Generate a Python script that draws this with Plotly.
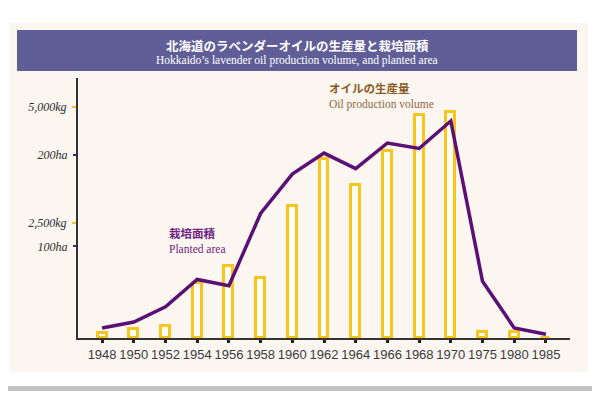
import plotly.graph_objects as go

# ---- data ----
years = ["1948", "1950", "1952", "1954", "1956", "1958", "1960", "1962",
         "1964", "1966", "1968", "1970", "1975", "1980", "1985"]
oil_kg = [100, 185, 250, 1180, 1550, 1290, 2850, 3870,
          3320, 4040, 4820, 4900, 140, 120, 0]
area_ha = [11, 17.5, 34, 64, 57, 136, 179, 202,
           185, 213, 207, 237, 62, 11, 4]
kg_ticks = [2500, 5000]
kg_labels = ["2,500kg", "5,000kg"]
ha_ticks = [100, 200]
ha_labels = ["100ha", "200ha"]

# page body has an 8px margin; figure is sized so the page is 600x395
OFF = 8
W, H = 600 - OFF, 395 - OFF
L, T = 78 - OFF, 78 - OFF
R = W - (570 - OFF)
B = H - (338 - OFF)
PW, PH = W - L - R, H - T - B


def px(x):
    return (x - OFF - L) / PW


def py(y):
    return (H - B - (y - OFF)) / PH


fig = go.Figure()

fig.add_trace(go.Bar(
    x=years, y=oil_kg, yaxis="y",
    width=0.28,
    marker=dict(color="#FFFDF4", line=dict(color="#F6C61E", width=3)),
    showlegend=False, hoverinfo="skip",
))
fig.add_trace(go.Scatter(
    x=years, y=area_ha, yaxis="y2", mode="lines",
    line=dict(color="#5A1074", width=3.5),
    showlegend=False, hoverinfo="skip",
))

shapes = []
# card shadow
shapes.append(dict(type="rect", xref="paper", yref="paper", layer="below",
                   x0=px(592), x1=px(597), y0=py(4), y1=py(391),
                   fillcolor="#C4C4C4", line=dict(width=0)))
shapes.append(dict(type="rect", xref="paper", yref="paper", layer="below",
                   x0=px(4), x1=px(597), y0=py(386), y1=py(391),
                   fillcolor="#C4C4C4", line=dict(width=0)))
shapes.append(dict(type="rect", xref="paper", yref="paper", layer="below",
                   x0=px(0), x1=px(592), y0=py(0), y1=py(386),
                   fillcolor="#FFFFFF", line=dict(width=0)))
# cream panel
shapes.append(dict(type="rect", xref="paper", yref="paper", layer="below",
                   x0=px(10), x1=px(588), y0=py(23), y1=py(372),
                   fillcolor="#FCF6F1", line=dict(width=0)))
# title band
shapes.append(dict(type="rect", xref="paper", yref="paper", layer="below",
                   x0=px(17), x1=px(577), y0=py(30), y1=py(71),
                   fillcolor="#5F5E97", line=dict(width=0)))

JP = "font-family:'Noto Sans CJK JP'"

annotations = [
    dict(text="<b>北海道のラベンダーオイルの生産量と栽培面積</b>",
         x=px(297), y=py(45), xref="paper", yref="paper", showarrow=False,
         xanchor="center", yanchor="middle",
         font=dict(family="Noto Sans CJK JP", size=12.5, color="#FFFFFF")),
    dict(text="Hokkaido’s lavender oil production volume, and planted area",
         x=px(297), y=py(60), xref="paper", yref="paper", showarrow=False,
         xanchor="center", yanchor="middle",
         font=dict(family="Liberation Serif", size=11.5, color="#FFFFFF")),
    dict(text=f"<span style=\"{JP};color:#8A5A22\"><b>オイルの生産量</b></span>"
              "<br>Oil production volume",
         x=px(327), y=py(95), xref="paper", yref="paper", showarrow=False,
         xanchor="left", yanchor="middle", align="left",
         font=dict(family="Liberation Serif", size=11.5, color="#8C6A3C")),
    dict(text=f"<span style=\"{JP}\"><b>栽培面積</b></span><br>Planted area",
         x=px(167), y=py(240), xref="paper", yref="paper", showarrow=False,
         xanchor="left", yanchor="middle", align="left",
         font=dict(family="Liberation Serif", size=11.5, color="#6E2382")),
]

fig.update_layout(
    width=W, height=H,
    margin=dict(l=L, r=R, t=T, b=B, pad=0),
    paper_bgcolor="#FFFFFF",
    plot_bgcolor="rgba(0,0,0,0)",
    shapes=shapes,
    annotations=annotations,
    bargap=0,
    xaxis=dict(
        type="category", range=[-0.76, 14.76],
        showgrid=False, zeroline=False,
        showline=True, linecolor="#333333", linewidth=2,
        ticks="outside", ticklen=3, tickwidth=3, tickcolor="#222222",
        tickangle=0,
        tickfont=dict(family="Liberation Sans", size=13, color="#3A3A3A"),
        fixedrange=True,
    ),
    yaxis=dict(
        range=[0, 5628], tickvals=kg_ticks, ticktext=kg_labels,
        showgrid=False, zeroline=False,
        showline=True, linecolor="#333333", linewidth=2,
        ticks="outside", ticklen=4, tickwidth=2, tickcolor="#F2C232",
        tickfont=dict(family="Liberation Serif", size=12, color="#2A2A2A",
                      style="italic"),
        ticklabelstandoff=3,
    ),
    yaxis2=dict(
        range=[0, 284], tickvals=ha_ticks, ticktext=ha_labels,
        overlaying="y", side="left", anchor="x",
        showgrid=False, zeroline=False, showline=False,
        ticks="outside", ticklen=4, tickwidth=2, tickcolor="#2B2A8C",
        tickfont=dict(family="Liberation Serif", size=12, color="#2A2A2A",
                      style="italic"),
        ticklabelstandoff=3,
    ),
)

fig.write_html("out.html")
